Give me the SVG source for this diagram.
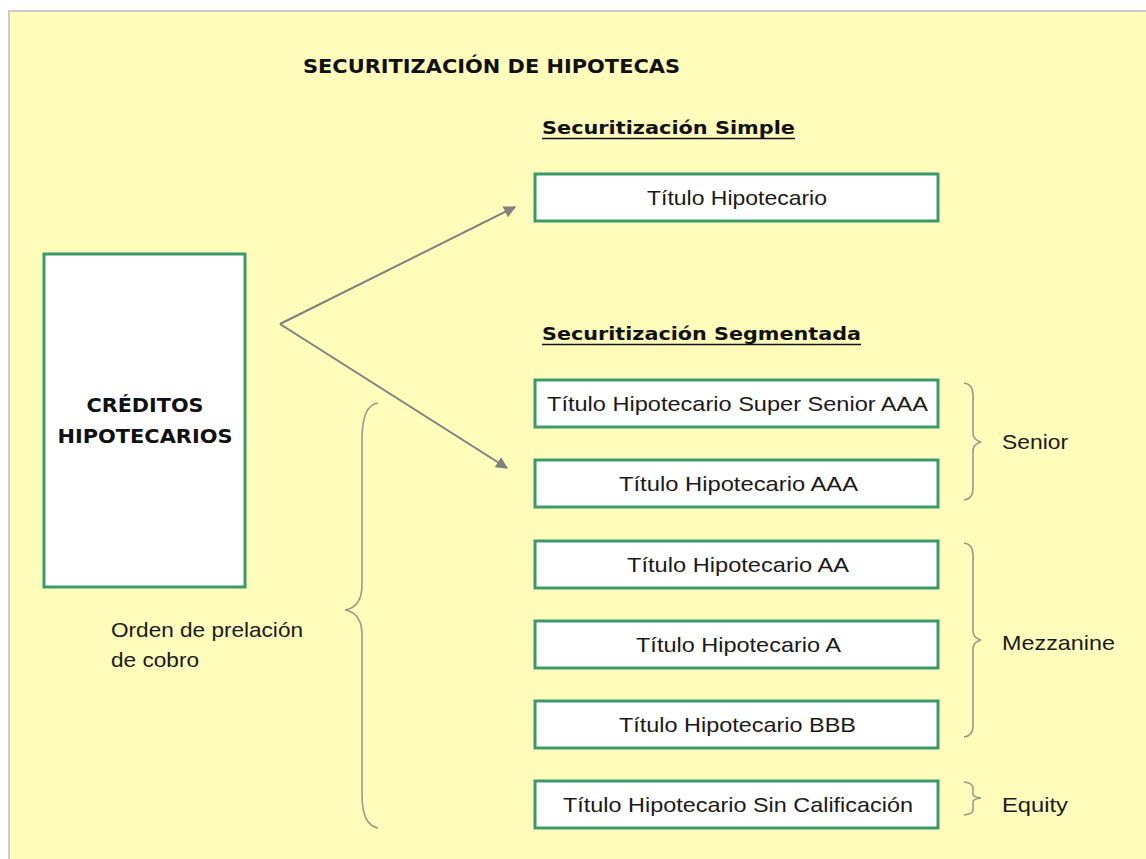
<svg xmlns="http://www.w3.org/2000/svg" width="1146" height="859" viewBox="0 0 1146 859">
  <style>
    .box { fill: #ffffff; stroke: #3a9a6a; stroke-width: 3; }
    .lbl { font-family: "Liberation Sans", Arial, sans-serif; font-size: 21px; fill: #1a1a1a; }
    .bold { font-family: "DejaVu Sans", Verdana, sans-serif; font-weight: bold; fill: #111111; }
    .brace { fill: none; stroke: #9a9a88; stroke-width: 1.6; }
    .conn { fill: none; stroke: #808080; stroke-width: 2; }
  </style>
  <defs>
    <marker id="arrow" viewBox="0 0 10 10" refX="9" refY="5" markerWidth="13" markerHeight="12" orient="auto" markerUnits="userSpaceOnUse">
      <path d="M0,0 L10,5 L0,10 Z" fill="#808080"/>
    </marker>
  </defs>

  <!-- page background -->
  <rect x="0" y="0" width="1146" height="859" fill="#ffffff"/>
  <rect x="9" y="11" width="1140" height="852" fill="#fffcbc" stroke="#cccccc" stroke-width="2"/>

  <!-- title -->
  <text class="bold" x="303" y="73" font-size="19" textLength="377" lengthAdjust="spacingAndGlyphs">SECURITIZACIÓN DE HIPOTECAS</text>

  <!-- section headings -->
  <g id="heading-simple">
    <text class="bold" x="542" y="134" font-size="18" textLength="253" lengthAdjust="spacingAndGlyphs">Securitización Simple</text>
    <line x1="542" y1="138.5" x2="795" y2="138.5" stroke="#111" stroke-width="1.6"/>
  </g>
  <g id="heading-segmentada">
    <text class="bold" x="542" y="340" font-size="18" textLength="319" lengthAdjust="spacingAndGlyphs">Securitización Segmentada</text>
    <line x1="542" y1="344.5" x2="861" y2="344.5" stroke="#111" stroke-width="1.6"/>
  </g>

  <!-- source node -->
  <g id="creditos">
    <rect class="box" x="44" y="254" width="201" height="333"/>
    <text class="bold" x="145" y="412" font-size="19" text-anchor="middle" textLength="117" lengthAdjust="spacingAndGlyphs">CRÉDITOS</text>
    <text class="bold" x="145" y="443" font-size="19" text-anchor="middle" textLength="175" lengthAdjust="spacingAndGlyphs">HIPOTECARIOS</text>
  </g>

  <!-- connectors -->
  <g id="connectors">
    <line class="conn" x1="280" y1="324" x2="515" y2="207" marker-end="url(#arrow)"/>
    <line class="conn" x1="280" y1="324" x2="507" y2="468" marker-end="url(#arrow)"/>
  </g>

  <!-- tranche nodes -->
  <g id="titulo-simple">
    <rect class="box" x="535" y="174" width="403" height="47"/>
    <text class="lbl" x="737" y="205" text-anchor="middle" textLength="180" lengthAdjust="spacingAndGlyphs">Título Hipotecario</text>
  </g>
  <g id="titulo-super-senior">
    <rect class="box" x="535" y="380" width="403" height="47"/>
    <text class="lbl" x="737.5" y="411" text-anchor="middle" textLength="381" lengthAdjust="spacingAndGlyphs">Título Hipotecario Super Senior AAA</text>
  </g>
  <g id="titulo-aaa">
    <rect class="box" x="535" y="460" width="403" height="47"/>
    <text class="lbl" x="738.5" y="491" text-anchor="middle" textLength="239" lengthAdjust="spacingAndGlyphs">Título Hipotecario AAA</text>
  </g>
  <g id="titulo-aa">
    <rect class="box" x="535" y="541" width="403" height="47"/>
    <text class="lbl" x="738" y="572" text-anchor="middle" textLength="222" lengthAdjust="spacingAndGlyphs">Título Hipotecario AA</text>
  </g>
  <g id="titulo-a">
    <rect class="box" x="535" y="621" width="403" height="47"/>
    <text class="lbl" x="738.5" y="652" text-anchor="middle" textLength="205" lengthAdjust="spacingAndGlyphs">Título Hipotecario A</text>
  </g>
  <g id="titulo-bbb">
    <rect class="box" x="535" y="701" width="403" height="47"/>
    <text class="lbl" x="737.5" y="732" text-anchor="middle" textLength="237" lengthAdjust="spacingAndGlyphs">Título Hipotecario BBB</text>
  </g>
  <g id="titulo-sin-calificacion">
    <rect class="box" x="535" y="781" width="403" height="47"/>
    <text class="lbl" x="738" y="812" text-anchor="middle" textLength="350" lengthAdjust="spacingAndGlyphs">Título Hipotecario Sin Calificación</text>
  </g>

  <!-- priority brace -->
  <g id="orden-prelacion">
    <path class="brace" d="M378,403 Q362,405 362,440 L362,585 Q362,607 345,610 Q362,613 362,635 L362,795 Q362,825 378,828"/>
    <text class="lbl" x="111" y="637" textLength="192" lengthAdjust="spacingAndGlyphs">Orden de prelación</text>
    <text class="lbl" x="111" y="667" textLength="88" lengthAdjust="spacingAndGlyphs">de cobro</text>
  </g>

  <!-- tranche group braces -->
  <g id="senior">
    <path class="brace" d="M964,383 Q973,384 973,395 L973,433 Q973,440 981,442 Q973,444 973,451 L973,489 Q973,499 964,500"/>
    <text class="lbl" x="1002" y="449" textLength="66" lengthAdjust="spacingAndGlyphs">Senior</text>
  </g>
  <g id="mezzanine">
    <path class="brace" d="M964,543 Q973,544 973,555 L973,631 Q973,638 981,640 Q973,642 973,649 L973,726 Q973,736 964,737"/>
    <text class="lbl" x="1002" y="650" textLength="113" lengthAdjust="spacingAndGlyphs">Mezzanine</text>
  </g>
  <g id="equity">
    <path class="brace" d="M964,782 Q973,783 973,788 L973,794 Q973,797 981,798 Q973,799 973,802 L973,810 Q973,814 964,815"/>
    <text class="lbl" x="1002" y="812" textLength="66" lengthAdjust="spacingAndGlyphs">Equity</text>
  </g>
</svg>
